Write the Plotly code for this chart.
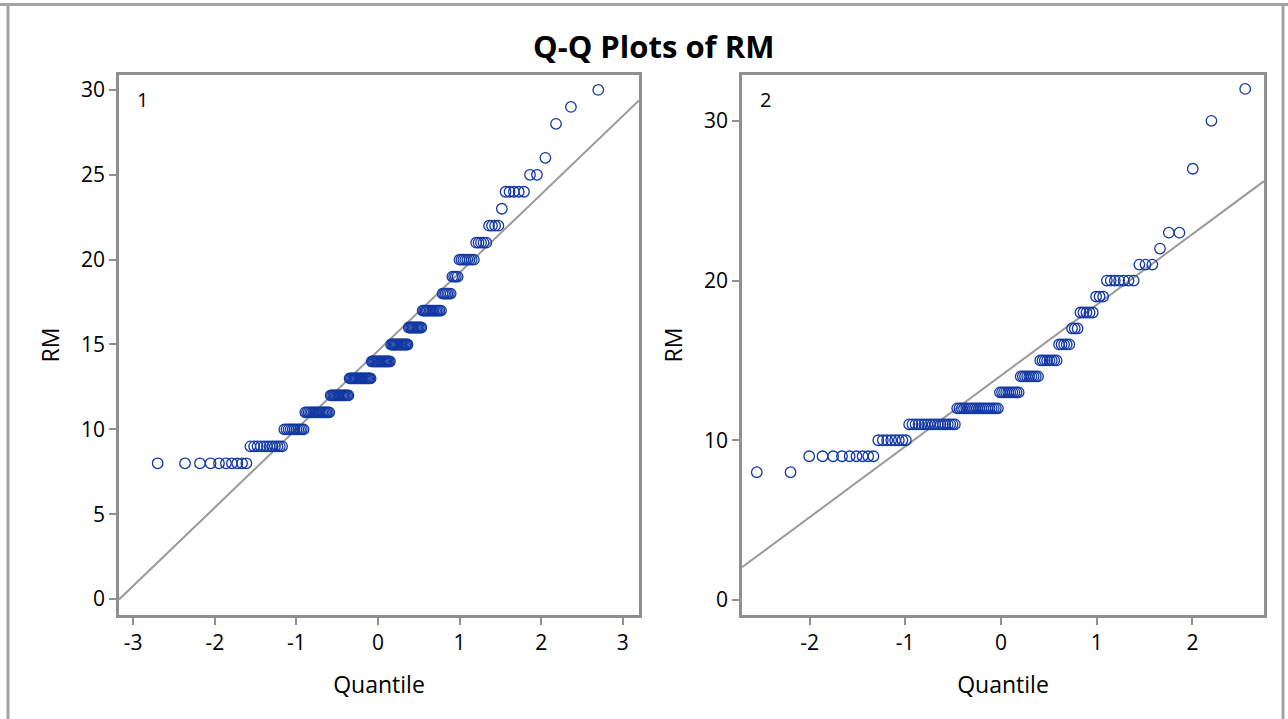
import numpy as np
import plotly.graph_objects as go
from statistics import NormalDist

# ---------------- data (RM value -> number of observations) ----------------
rm_values_1 = [8, 9, 10, 11, 12, 13, 14, 15, 16, 17, 18, 19, 20, 21, 22, 23, 24, 25, 26, 28, 29, 30]
rm_counts_1 = [10, 12, 11, 17, 15, 19, 17, 15, 11, 14, 6, 4, 8, 5, 4, 1, 5, 2, 1, 1, 1, 1]

rm_values_2 = [8, 9, 10, 11, 12, 13, 14, 15, 16, 17, 18, 19, 20, 21, 22, 23, 27, 30, 32]
rm_counts_2 = [2, 9, 8, 18, 20, 10, 9, 8, 5, 3, 5, 3, 7, 3, 1, 2, 1, 1, 1]

panel_labels = ["1", "2"]
x_ticks_1 = [-3, -2, -1, 0, 1, 2, 3]
y_ticks_1 = [0, 5, 10, 15, 20, 25, 30]
x_ticks_2 = [-2, -1, 0, 1, 2]
y_ticks_2 = [0, 10, 20, 30]

x_range_1 = [-3.174, 3.199]
y_range_1 = [-0.94, 30.88]
x_range_2 = [-2.705, 2.747]
y_range_2 = [-0.94, 32.87]

title_text = "Q-Q Plots of RM"
x_title = "Quantile"
y_title = "RM"

# ---------------- styles ----------------
FONT = "Open Sans"
MARK = "#1238a3"
GRAY = "#8f8f8f"
LINEGRAY = "#9a9a9a"


def qq(values, counts):
    data = np.sort(np.repeat(values, counts)).astype(float)
    n = len(data)
    nd = NormalDist()
    q = np.array([nd.inv_cdf((i - 0.375) / (n + 0.25)) for i in range(1, n + 1)])
    mu = data.mean()
    sd = data.std(ddof=1)
    return q, data, mu, sd


fig = go.Figure()

panels = [
    (rm_values_1, rm_counts_1, x_range_1, "x", "y"),
    (rm_values_2, rm_counts_2, x_range_2, "x2", "y2"),
]
for vals, cnts, xr, xa, ya in panels:
    q, d, mu, sd = qq(vals, cnts)
    lx = np.array(xr)
    fig.add_trace(go.Scatter(x=lx, y=mu + sd * lx, mode="lines", xaxis=xa, yaxis=ya,
                             line=dict(color=LINEGRAY, width=2), showlegend=False,
                             hoverinfo="skip"))
    fig.add_trace(go.Scatter(x=q, y=d, mode="markers", xaxis=xa, yaxis=ya,
                             marker=dict(symbol="circle-open", size=10.5,
                                         color=MARK, line=dict(width=1.3, color=MARK)),
                             showlegend=False))

W, H = 1288, 719


def px_x(p):
    return p / W


def px_y(p):
    return 1 - p / H


axis_common = dict(showline=True, mirror=True, linecolor=GRAY, linewidth=2.5,
                   ticks="outside", ticklen=7, tickwidth=2, tickcolor=GRAY,
                   showgrid=False, zeroline=False,
                   tickfont=dict(family=FONT, size=21, color="#000"))

ydom = [px_y(615), px_y(75)]
tfont = dict(family=FONT, size=23, color="#000")

fig.update_layout(
    width=W, height=H,
    margin=dict(l=0, r=0, t=0, b=0),
    paper_bgcolor="white", plot_bgcolor="white",
    font=dict(family=FONT, color="#000"),
    xaxis=dict(domain=[px_x(119), px_x(639)], range=x_range_1, anchor="y",
               tickvals=x_ticks_1, ticktext=[str(v) for v in x_ticks_1],
               title=dict(text=x_title, font=tfont, standoff=22),
               **axis_common),
    yaxis=dict(domain=ydom, range=y_range_1, anchor="x",
               tickvals=y_ticks_1, ticktext=[str(v) for v in y_ticks_1],
               title=dict(text=y_title, font=tfont, standoff=15),
               **axis_common),
    xaxis2=dict(domain=[px_x(742), px_x(1264)], range=x_range_2, anchor="y2",
                tickvals=x_ticks_2, ticktext=[str(v) for v in x_ticks_2],
                title=dict(text=x_title, font=tfont, standoff=22),
                **axis_common),
    yaxis2=dict(domain=ydom, range=y_range_2, anchor="x2",
                tickvals=y_ticks_2, ticktext=[str(v) for v in y_ticks_2],
                title=dict(text=y_title, font=tfont, standoff=15),
                **axis_common),
)

annotations = [
    dict(text="<b>" + title_text + "</b>", xref="paper", yref="paper",
         x=px_x(653), y=px_y(46), xanchor="center", yanchor="middle",
         showarrow=False, font=dict(family=FONT, size=31, color="#000")),
]
for lab, xd, yd in zip(panel_labels, ["x domain", "x2 domain"], ["y domain", "y2 domain"]):
    annotations.append(dict(text=lab, xref=xd, yref=yd,
                            x=0.03, y=0.955, xanchor="left", yanchor="middle",
                            showarrow=False, font=dict(family=FONT, size=20, color="#000")))
fig.update_layout(annotations=annotations)

# outer frame of the graph output
frame = dict(color="#a3a3a3", width=3)
fig.update_layout(shapes=[
    dict(type="line", xref="paper", yref="paper", x0=0, x1=1, y0=px_y(4.5), y1=px_y(4.5), line=frame),
    dict(type="line", xref="paper", yref="paper", x0=px_x(8), x1=px_x(8), y0=0, y1=px_y(4.5), line=frame),
    dict(type="line", xref="paper", yref="paper", x0=px_x(1283), x1=px_x(1283), y0=0, y1=px_y(4.5), line=frame),
])

fig.write_html("out.html", config={"displayModeBar": False},
               post_script="document.body.style.margin='0px';document.body.style.overflow='hidden';")
